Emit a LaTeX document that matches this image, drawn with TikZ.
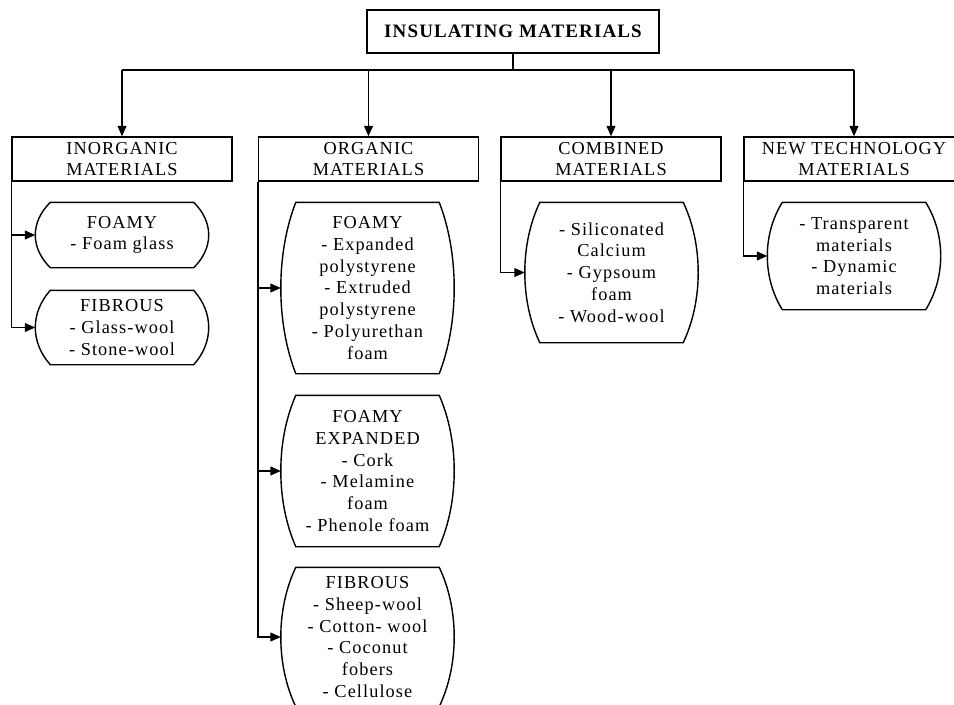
\documentclass[tikz,border=0pt]{standalone}
\usepackage{fontspec}
\setmainfont{Liberation Serif}[LetterSpace=6]
\usetikzlibrary{arrows.meta,calc}

\newcommand{\barrel}[1]{%
\draw ([xshift=3.75mm]#1.north west) -- ([xshift=-3.75mm]#1.north east)
  .. controls ($(#1.north east)!0.3!(#1.south east)+(0.125,0)$) and ($(#1.north east)!0.7!(#1.south east)+(0.125,0)$) .. ([xshift=-3.75mm]#1.south east)
  -- ([xshift=3.75mm]#1.south west)
  .. controls ($(#1.south west)!0.3!(#1.north west)+(-0.125,0)$) and ($(#1.south west)!0.7!(#1.north west)+(-0.125,0)$) .. cycle;}

\begin{document}
\begin{tikzpicture}[line width=1pt, >={Triangle[length=2.6mm,width=2.2mm]},
  every node/.style={font=\fontsize{13pt}{15.5pt}\selectfont, align=center, inner sep=0pt},
  catbox/.style={draw, minimum width=5.5cm, minimum height=1.1cm},
  group/.style={minimum width=4.3cm}]
\useasboundingbox (0,0) rectangle (23.85,-17.6);
\node[draw, minimum width=7.3cm, minimum height=1.075cm, font=\fontsize{13.5pt}{16pt}\selectfont\bfseries] (top) at (12.825,-0.7875) {INSULATING MATERIALS};
\coordinate (bus) at (12.825,-1.75);

\node[catbox] (inorg) at (3.05,-3.975) {INORGANIC\\MATERIALS};
\node[catbox] (org) at (9.2125,-3.975) {ORGANIC\\MATERIALS};
\node[catbox] (comb) at (15.275,-3.975) {COMBINED\\MATERIALS};
\node[catbox] (newtech) at (21.35,-3.975) {NEW TECHNOLOGY\\MATERIALS};

\node[group, minimum height=1.6cm] (inofoam) at (3.05,-5.875) {FOAMY\\- Foam glass};
\node[group, minimum height=1.825cm] (inofib) at (3.05,-8.1875) {FIBROUS\\- Glass-wool\\- Stone-wool};
\node[group, minimum height=4.25cm] (orgfoam) at (9.1875,-7.2) {FOAMY\\- Expanded\\polystyrene\\- Extruded\\polystyrene\\- Polyurethan\\foam};
\node[group, minimum height=3.75cm] (orgexp) at (9.1875,-11.775) {FOAMY\\EXPANDED\\- Cork\\- Melamine\\foam\\- Phenole foam};
\node[group, minimum height=3.45cm] (orgfib) at (9.1875,-15.925) {FIBROUS\\- Sheep-wool\\- Cotton- wool\\- Coconut\\fobers\\- Cellulose};
\node[group, minimum height=3.475cm] (combmat) at (15.2875,-6.8125) {- Siliconated\\Calcium\\- Gypsoum\\foam\\- Wood-wool};
\node[group, minimum height=2.65cm] (newmat) at (21.35,-6.4) {- Transparent\\materials\\- Dynamic\\materials};

\foreach \n in {inofoam,inofib,orgfoam,orgexp,orgfib,combmat,newmat}
  \barrel{\n};

\draw (top) -- (bus);
\draw (inorg.north |- bus) -- (newtech.north |- bus);
\foreach \n in {inorg,org,comb,newtech}
  \draw[->] (\n.north |- bus) -- (\n);

\draw[->] (inorg.south west) |- (inofoam);
\draw[->] (inorg.south west) |- (inofib);
\draw[->] (org.south west) |- (orgfoam);
\draw[->] (org.south west) |- (orgexp);
\draw[->] (org.south west) |- (orgfib);
\draw[->] (comb.south west) |- (combmat);
\draw[->] (newtech.south west) |- (newmat);
\end{tikzpicture}
\end{document}
